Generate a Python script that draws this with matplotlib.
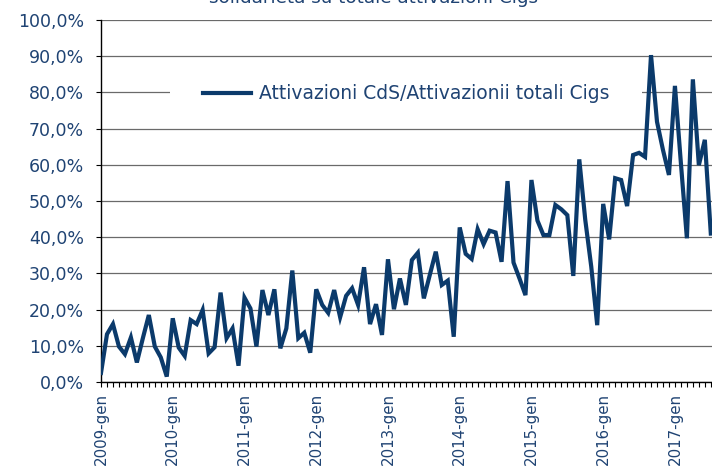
import numpy as np
import pandas as pd
import matplotlib
matplotlib.use("Agg")
import matplotlib.pyplot as plt
from matplotlib.patches import Rectangle
from matplotlib.ticker import FuncFormatter, MultipleLocator

# quota attivazioni CdS su totale attivazioni Cigs, mensile (%)
val2009 = [2.5, 13.2, 16.0, 9.8, 7.7, 12.3, 5.4, 12.1, 18.5, 9.8, 6.8, 1.5]
val2010 = [17.6, 9.5, 7.2, 17.1, 16.0, 19.9, 7.9, 9.6, 24.7, 12.1, 14.8, 4.5]
val2011 = [23.3, 20.3, 9.8, 25.4, 18.5, 25.6, 9.3, 14.8, 30.8, 12.1, 13.6, 8.1]
val2012 = [25.6, 21.3, 19.1, 25.4, 17.9, 23.8, 25.9, 21.3, 31.7, 16.0, 21.5, 13.0]
val2013 = [33.9, 20.1, 28.6, 21.3, 33.7, 35.7, 23.1, 29.6, 36.0, 26.8, 28.0, 12.5]
val2014 = [42.7, 35.4, 34.0, 42.2, 38.1, 41.8, 41.3, 33.2, 55.5, 33.0, 28.6, 24.0]
val2015 = [55.8, 44.6, 40.6, 40.6, 48.9, 47.7, 46.1, 29.3, 61.5, 44.8, 31.9, 15.7]
val2016 = [49.2, 39.4, 56.3, 55.8, 48.6, 62.7, 63.3, 62.2, 90.3, 71.9, 64.1, 57.2]
val2017 = [81.8, 60.4, 39.7, 83.6, 59.9, 66.9, 41.0]

values = val2009 + val2010 + val2011 + val2012 + val2013 + val2014 + val2015 + val2016 + val2017
months = pd.date_range("2009-01-01", periods=len(values), freq="MS")
tickLabels = ["{}-gen".format(d.year) for d in months if d.month == 1]

navy = "#0b3a6b"
textCol = "#1f4373"
plt.rcParams["font.family"] = ["DejaVu Sans"]

fig = plt.figure(figsize=(7.12, 4.66), dpi=100)
ax = fig.add_axes([101 / 712, 84 / 466, 611 / 712, 362 / 466])

x = np.arange(len(values))
ax.plot(x, values, color=navy, lw=3.0, solid_joinstyle="miter", zorder=3,
        label="Attivazioni CdS/Attivazionii totali Cigs")

ax.set_ylim(0, 100)
ax.set_xlim(0, 102.2)
ax.yaxis.set_major_locator(MultipleLocator(10))
ax.yaxis.set_major_formatter(FuncFormatter(lambda v, p: "{:.1f}%".format(v).replace(".", ",")))
ax.grid(axis="y", color="#6a6a6a", lw=0.9)
ax.set_axisbelow(True)

ax.set_xticks(x, minor=True)
ax.set_xticks([i for i, d in enumerate(months) if d.month == 1])
ax.set_xticklabels(tickLabels, rotation=90, va="top", ha="center")
ax.tick_params(axis="x", which="both", length=3.5, width=0.8, colors="black", pad=4.5)
ax.tick_params(axis="x", labelsize=10.8, labelcolor=textCol)
ax.tick_params(axis="y", length=3.8, width=0.8, labelsize=12.5, labelcolor=textCol, pad=8.5)

for s in ["top", "right"]:
    ax.spines[s].set_visible(False)
ax.spines["left"].set_linewidth(1.0)
ax.spines["bottom"].set_linewidth(1.0)

# riquadro bianco della legenda sopra la griglia
ax.add_patch(Rectangle((0.113, 0.76), 0.772, 0.08, transform=ax.transAxes,
                       facecolor="white", edgecolor="none", zorder=2))
leg = ax.legend(loc="center", bbox_to_anchor=(0.499, 0.796), frameon=False,
                fontsize=13.5, handlelength=2.6, handletextpad=0.4)
for t in leg.get_texts():
    t.set_color(textCol)

fig.text(0.525, 1 - 3 / 466, "solidarietà su totale attivazioni Cigs", ha="center",
         va="baseline", fontsize=13.2, color=textCol)

fig.savefig("out.png", dpi=100)
